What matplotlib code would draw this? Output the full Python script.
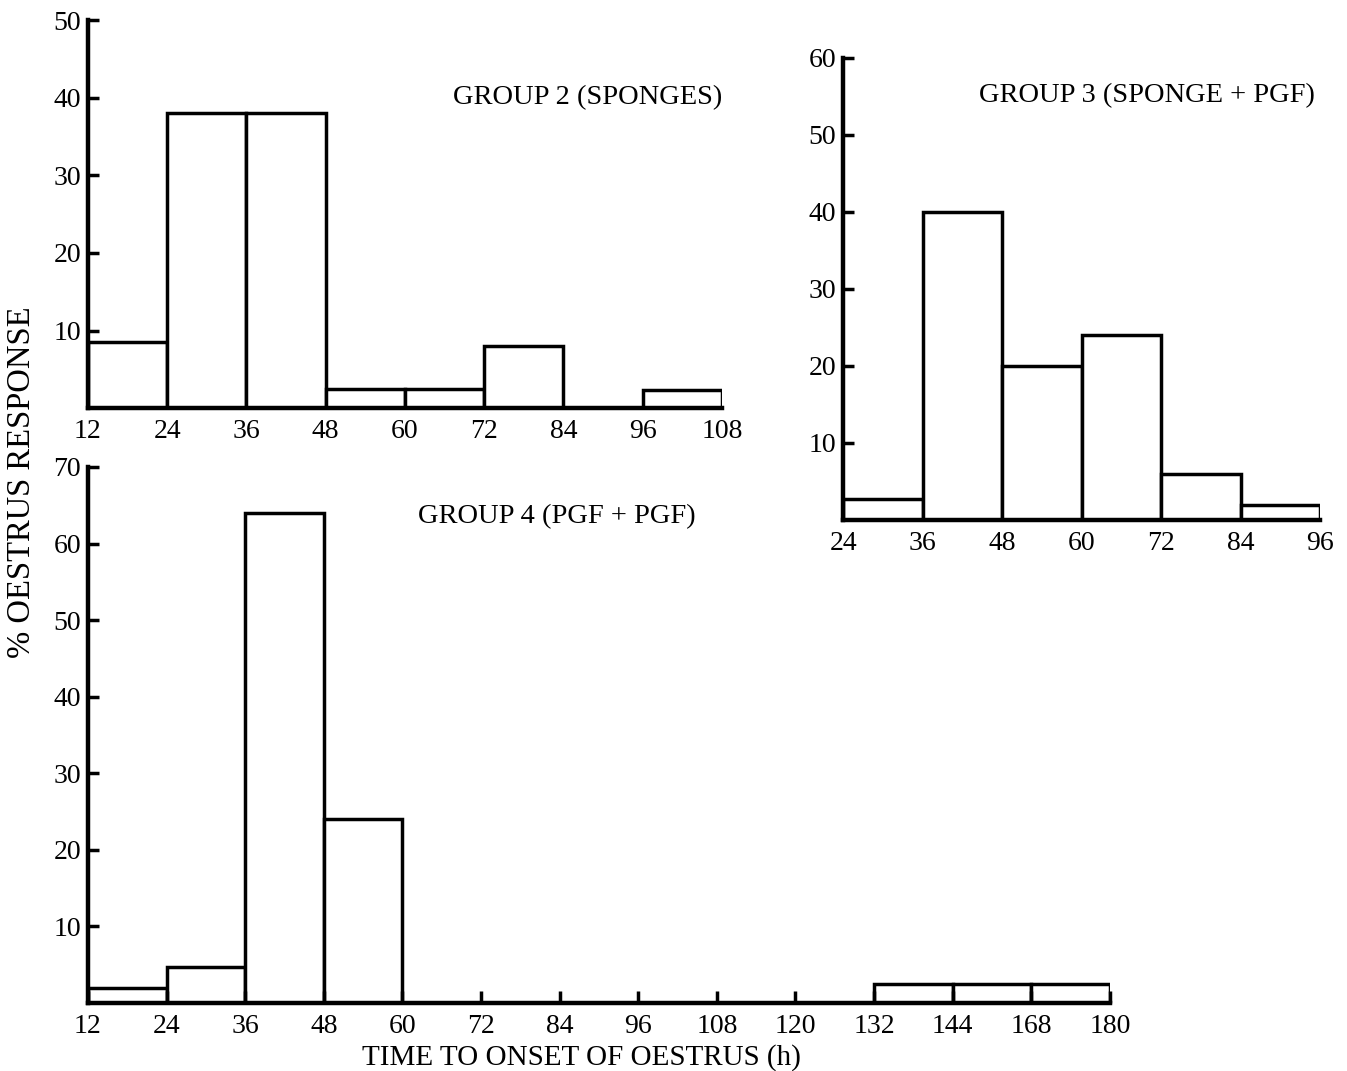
import matplotlib.pyplot as plt

plt.rcParams['font.family'] = ['Liberation Serif', 'DejaVu Serif']

# group 2 (sponges): bin edges in hours and % response per bin
g2_edges = [12, 24, 36, 48, 60, 72, 84, 96, 108]
g2_vals = [8.5, 38, 38, 2.5, 2.5, 8, 0, 2.3]

# group 3 (sponge + PGF)
g3_edges = [24, 36, 48, 60, 72, 84, 96]
g3_vals = [2.7, 40, 20, 24, 6, 2]

# group 4 (PGF + PGF): axis labels are evenly spaced, not to scale
g4_labels = [12, 24, 36, 48, 60, 72, 84, 96, 108, 120, 132, 144, 168, 180]
g4_vals = [2, 4.7, 64, 24, 0, 0, 0, 0, 0, 0, 2.5, 2.5, 2.5]

fig = plt.figure(figsize=(13.47, 10.71), dpi=100)

ax4 = fig.add_axes([0.0653, 0.0635, 0.7587, 0.5005])
ax2 = fig.add_axes([0.0653, 0.619, 0.4707, 0.362])
ax3 = fig.add_axes([0.626, 0.5145, 0.354, 0.4315])
for ax in (ax2, ax3, ax4):
    ax.patch.set_visible(False)
ax3.set_zorder(5)

FS = 20


def style(ax, ymax, step):
    for s in ['top', 'right']:
        ax.spines[s].set_visible(False)
    for s in ['left', 'bottom']:
        ax.spines[s].set_linewidth(3.2)
    ax.set_ylim(0, ymax)
    ax.set_yticks(range(step, ymax + 1, step))
    ax.tick_params(axis='y', direction='in', length=8, width=2.5, labelsize=FS, pad=5)
    ax.tick_params(axis='x', direction='in', length=0, labelsize=FS, pad=8)


# group 2
w = [g2_edges[i + 1] - g2_edges[i] for i in range(len(g2_vals))]
xs = [g2_edges[i] for i in range(len(g2_vals)) if g2_vals[i] > 0]
hs = [v for v in g2_vals if v > 0]
ws = [w[i] for i in range(len(g2_vals)) if g2_vals[i] > 0]
ax2.bar(xs, hs, width=ws, align='edge', color='white', edgecolor='black', linewidth=2.5)
ax2.set_xlim(g2_edges[0], g2_edges[-1])
ax2.set_xticks(g2_edges)
style(ax2, 50, 10)
ax2.text(1.0, 0.80, 'GROUP 2 (SPONGES)', transform=ax2.transAxes, ha='right', va='center', fontsize=20.5)

# group 3
w = [g3_edges[i + 1] - g3_edges[i] for i in range(len(g3_vals))]
ax3.bar(g3_edges[:-1], g3_vals, width=w, align='edge', color='white', edgecolor='black', linewidth=2.5)
ax3.set_xlim(g3_edges[0], g3_edges[-1])
ax3.set_xticks(g3_edges)
style(ax3, 60, 10)
ax3.text(0.99, 0.918, 'GROUP 3 (SPONGE + PGF)', transform=ax3.transAxes, ha='right', va='center', fontsize=20.5)

# group 4
pos = [i for i in range(len(g4_vals)) if g4_vals[i] > 0]
hs = [g4_vals[i] for i in pos]
ax4.bar(pos, hs, width=1, align='edge', color='white', edgecolor='black', linewidth=2.5)
ax4.set_xlim(0, len(g4_labels) - 1)
ax4.set_xticks(range(len(g4_labels)))
ax4.set_xticklabels(g4_labels)
style(ax4, 70, 10)
ax4.tick_params(axis='x', direction='in', length=9, width=2.5)
ax4.text(4.2, 63.5, 'GROUP 4 (PGF + PGF)', ha='left', va='center', fontsize=20.5)

fig.text(0.432, 0.013, 'TIME TO ONSET OF OESTRUS (h)', ha='center', va='center', fontsize=21)
fig.text(0.016, 0.55, '% OESTRUS RESPONSE', rotation=90, ha='center', va='center', fontsize=23.5)

fig.savefig('out.png', dpi=100)
